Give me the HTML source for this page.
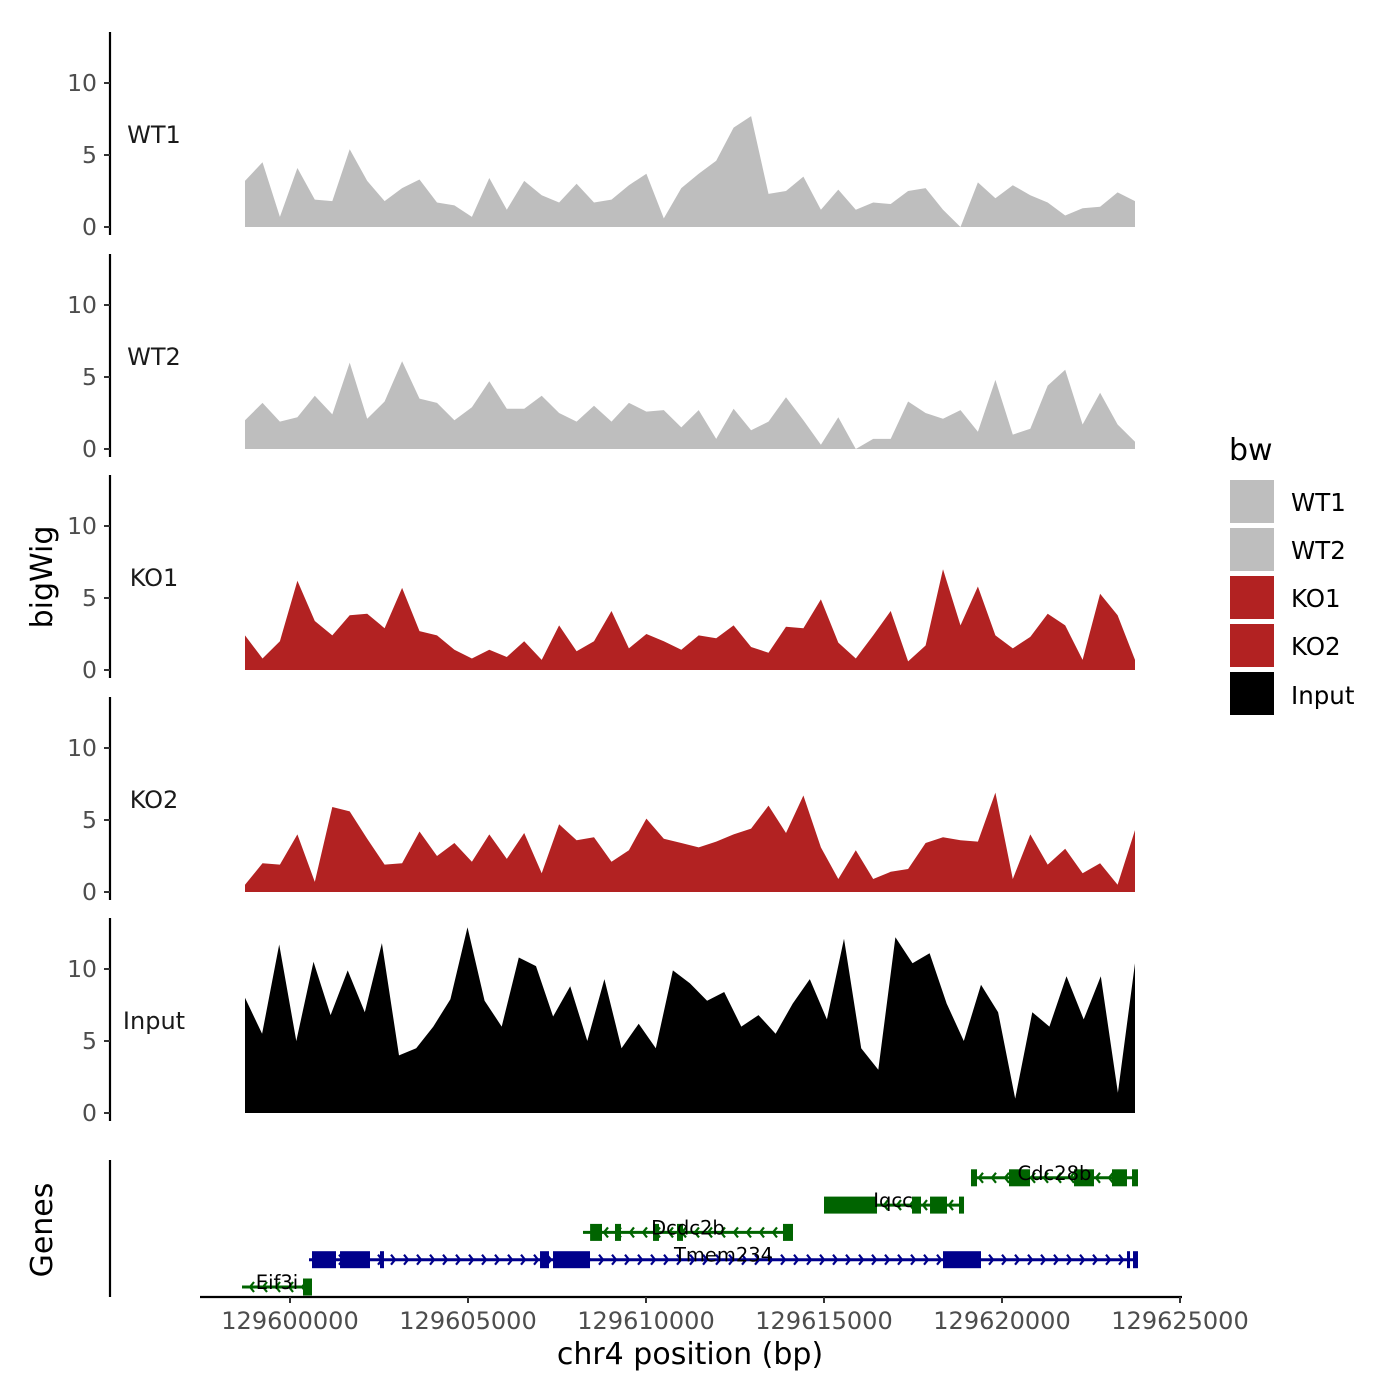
<!DOCTYPE html>
<html><head><meta charset="utf-8"><style>
html,body{margin:0;padding:0;background:#fff;}
svg{display:block;font-family:"DejaVu Sans","Liberation Sans",sans-serif;}
</style></head><body>
<svg id="chart" width="1400" height="1400" viewBox="0 0 1400 1400" xmlns="http://www.w3.org/2000/svg"></svg>
<script>
// ---- data ----
const trackNames = ["WT1","WT2","KO1","KO2","Input"];
const trackColors = ["#bebebe","#bebebe","#b22222","#b22222","#000000"];
const regionStart = 129598736;
const regionEnd = 129623736;
const wt1Values = [3.2,4.5,0.7,4.1,1.9,1.8,5.4,3.2,1.8,2.7,3.3,1.7,1.5,0.7,3.4,1.2,3.2,2.2,1.7,3.0,1.7,1.9,2.9,3.7,0.6,2.7,3.7,4.6,6.9,7.7,2.3,2.5,3.5,1.2,2.6,1.2,1.7,1.6,2.5,2.7,1.2,0,3.1,2.0,2.9,2.2,1.7,0.8,1.3,1.4,2.4,1.8];
const wt2Values = [2.0,3.2,1.9,2.2,3.7,2.4,6.0,2.1,3.3,6.1,3.5,3.2,2.0,2.9,4.7,2.8,2.8,3.7,2.5,1.9,3.0,1.9,3.2,2.6,2.7,1.5,2.7,0.7,2.8,1.3,1.9,3.6,2.0,0.3,2.2,0,0.7,0.7,3.3,2.5,2.1,2.7,1.2,4.8,1.0,1.4,4.4,5.5,1.7,3.9,1.7,0.5];
const ko1Values = [2.4,0.8,2.0,6.2,3.4,2.4,3.8,3.9,2.9,5.7,2.7,2.4,1.4,0.8,1.4,0.9,2.0,0.7,3.1,1.3,2.0,4.1,1.5,2.5,2.0,1.4,2.4,2.2,3.1,1.6,1.2,3.0,2.9,4.9,1.9,0.8,2.4,4.1,0.6,1.7,7.0,3.1,5.8,2.4,1.5,2.3,3.9,3.1,0.7,5.3,3.8,0.7];
const ko2Values = [0.5,2.0,1.9,4.0,0.7,5.9,5.6,3.7,1.9,2.0,4.2,2.5,3.4,2.1,4.0,2.3,4.1,1.3,4.7,3.6,3.8,2.1,2.9,5.1,3.7,3.4,3.1,3.5,4.0,4.4,6.0,4.1,6.7,3.1,0.9,2.9,0.9,1.4,1.6,3.4,3.8,3.6,3.5,6.9,0.9,4.0,1.9,3.0,1.3,2.0,0.5,4.3];
const inputValues = [8.0,5.5,11.7,5.0,10.5,6.8,9.9,7.0,11.8,4.0,4.5,6.0,7.9,12.9,7.8,6.0,10.8,10.2,6.7,8.8,5.0,9.3,4.5,6.2,4.5,9.9,9.0,7.8,8.4,6.0,6.8,5.5,7.6,9.3,6.5,12.1,4.5,3.0,12.2,10.4,11.1,7.6,5.0,8.9,7.0,1.0,7.0,6.0,9.5,6.5,9.5,1.4,10.4];
const yTicks = [0,5,10];
const xTicks = [129600000,129605000,129610000,129615000,129620000,129625000];
const geneNames = ["Cdc28b","Iqcc","Dcdc2b","Tmem234","Eif3i"];
const geneStrands = ["-","-","-","+","-"];
const geneStarts = [129619129,129615000,129608230,129600534,129598652];
const geneEnds = [129623820,129618877,129614129,129623820,129600618];
const geneRows = [4,3,2,1,0];
const geneExons = [
 [129619129,129619298,129620197,129620787,129622023,129622584,129623090,129623511,129623652,129623820],
 [129615000,129616489,129617472,129617725,129617978,129618455,129618792,129618933],
 [129608430,129608764,129609129,129609298,129610197,129610365,129610871,129611039,129613848,129614129],
 [129600618,129601292,129601405,129602247,129602528,129602640,129607023,129607275,129607388,129608427,129618343,129619410,129623511,129623596,129623680,129623820],
 [129600365,129600618]
];
const geneColors = ["#006400","#006400","#006400","#00008b","#006400"];

// ---- scales ----
const pxPerBp = 890/25000;
const xs = bp => 290 + (bp - 129600000)*pxPerBp;
const panelZero = [227,449,670,892,1113];
const pxPerUnit = 14.4;
const ys = (p,v) => panelZero[p] - v*pxPerUnit;
const geneRowY = r => 1287 - r*27.3;

const NS="http://www.w3.org/2000/svg";
const svg=document.getElementById('chart');
function mk(tag,attrs,parent){const e=document.createElementNS(NS,tag);for(const k in attrs)e.setAttribute(k,attrs[k]);(parent||svg).appendChild(e);return e;}
function txt(s,attrs,parent){const e=mk('text',attrs,parent);e.textContent=s;return e;}

const allValues=[wt1Values,wt2Values,ko1Values,ko2Values,inputValues];
for(let p=0;p<5;p++){
  const g=mk('g',{});
  
  
  const vals=allValues[p];
  const n=vals.length;
  let d='M'+xs(regionStart).toFixed(1)+','+ys(p,0);
  for(let i=0;i<n;i++){
    const bp=regionStart+i*(regionEnd-regionStart)/(n-1);
    d+=' L'+xs(bp).toFixed(1)+','+ys(p,vals[i]).toFixed(1);
  }
  d+=' L'+xs(regionEnd).toFixed(1)+','+ys(p,0)+' Z';
  const a=mk('path',{d:d,fill:trackColors[p],stroke:'none'},g);
  
  
  const top=panelZero[p]-195, bot=panelZero[p]+8;
  const ax=mk('line',{x1:110,x2:110,y1:top,y2:bot,stroke:'#000','stroke-width':2.2},g);
  
  
  yTicks.forEach(t=>{
    mk('line',{x1:104,x2:110,y1:ys(p,t),y2:ys(p,t),stroke:'#333','stroke-width':2},g);
    const tl=txt(String(t),{x:97,y:ys(p,t)+8,'text-anchor':'end','font-size':23.5,fill:'#4d4d4d'},g);
    
    
  });
  const lab=txt(trackNames[p],{x:154,y:panelZero[p]-84,'text-anchor':'middle','font-size':24,fill:'#1a1a1a'},g);
  
  
}

// genes
const gg=mk('g',{});


for(let i=0;i<geneNames.length;i++){
  const y=geneRowY(geneRows[i]), c=geneColors[i];
  const g=mk('g',{},gg);
  
  
  mk('line',{x1:xs(geneStarts[i]),x2:xs(geneEnds[i]),y1:y,y2:y,stroke:c,'stroke-width':3},g);
  const step=13;
  for(let x=xs(geneStarts[i])+8;x<xs(geneEnds[i])-4;x+=step){
    const dx=geneStrands[i]=='+'?4:-4;
    mk('polyline',{points:(x-dx)+','+(y-5)+' '+x+','+y+' '+(x-dx)+','+(y+5),fill:'none',stroke:c,'stroke-width':2.2},g);
  }
  const ex=geneExons[i];
  for(let k=0;k<ex.length;k+=2){
    const x1=xs(ex[k]),x2=xs(ex[k+1]);
    mk('rect',{x:x1,y:y-8.5,width:Math.max(2,x2-x1),height:17,fill:c},g);
  }
  const mid=(xs(geneStarts[i])+xs(geneEnds[i]))/2;
  const gl=txt(geneNames[i],{x:mid,y:y+2,'text-anchor':'middle','font-size':19.5,fill:'#000'},g);
  
  
}
mk('line',{x1:110,x2:110,y1:1160,y2:1297,stroke:'#000','stroke-width':2.2});

// x axis
const xa=mk('g',{});


mk('line',{x1:200,x2:1182,y1:1297,y2:1297,stroke:'#000','stroke-width':2.2},xa);
xTicks.forEach(t=>{
  mk('line',{x1:xs(t),x2:xs(t),y1:1297,y2:1303,stroke:'#333','stroke-width':2},xa);
  const l=txt(String(t),{x:xs(t),y:1329,'text-anchor':'middle','font-size':24,fill:'#4d4d4d'},xa);
  
  
});
</script>
<svg style="position:absolute;left:0;top:0" width="1400" height="1400">
<text x="690" y="1364" text-anchor="middle" font-size="30" font-family="DejaVu Sans, Liberation Sans, sans-serif" fill="#000">chr4 position (bp)</text>
<text transform="translate(52,577) rotate(-90)" text-anchor="middle" font-size="30" font-family="DejaVu Sans, Liberation Sans, sans-serif" fill="#000">bigWig</text>
<text transform="translate(52,1230) rotate(-90)" text-anchor="middle" font-size="30" font-family="DejaVu Sans, Liberation Sans, sans-serif" fill="#000">Genes</text>
<g font-family="DejaVu Sans, Liberation Sans, sans-serif">
<text x="1229" y="460" font-size="30" fill="#000">bw</text>
<rect x="1230" y="480" width="44" height="43" fill="#bebebe"/>
<rect x="1230" y="528" width="44" height="43" fill="#bebebe"/>
<rect x="1230" y="576" width="44" height="43" fill="#b22222"/>
<rect x="1230" y="624" width="44" height="43" fill="#b22222"/>
<rect x="1230" y="672" width="44" height="43" fill="#000"/>
<text x="1291" y="511" font-size="24.5" fill="#000">WT1</text>
<text x="1291" y="559" font-size="24.5" fill="#000">WT2</text>
<text x="1291" y="607" font-size="24.5" fill="#000">KO1</text>
<text x="1291" y="655" font-size="24.5" fill="#000">KO2</text>
<text x="1291" y="704" font-size="24.5" fill="#000">Input</text>
</g>
</svg>
</body></html>
